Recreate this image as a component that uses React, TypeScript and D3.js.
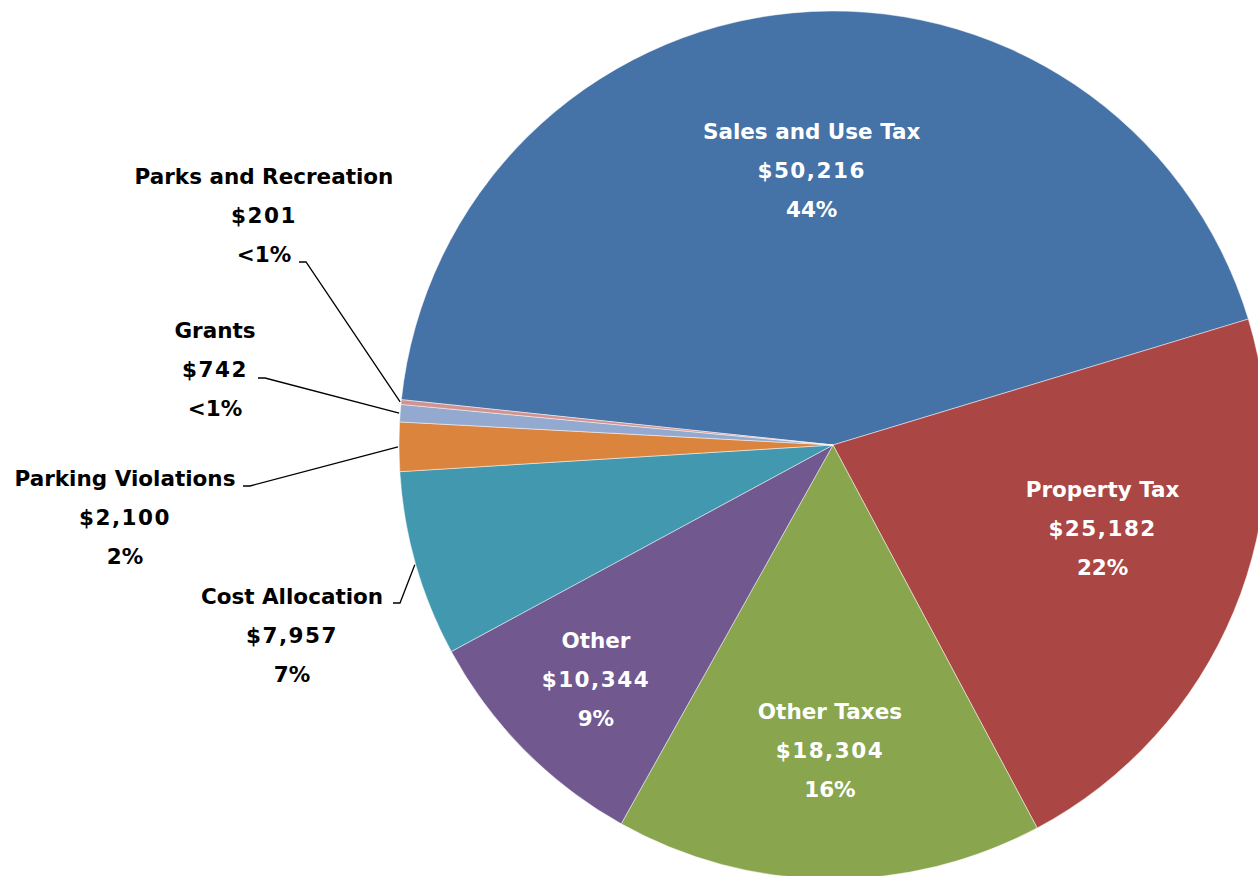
import React, { useEffect, useRef } from 'react';
import * as d3 from 'd3';

// Revenue sources (thousands)
const categories = [
  'Sales and Use Tax',
  'Property Tax',
  'Other Taxes',
  'Other',
  'Cost Allocation',
  'Parking Violations',
  'Grants',
  'Parks and Recreation',
];
const values = [50216, 25182, 18304, 10344, 7957, 2100, 742, 201];
const percentLabels = ['44%', '22%', '16%', '9%', '7%', '2%', '<1%', '<1%'];
const colors = ['#4572A7', '#AA4643', '#89A54E', '#71588F', '#4198AF', '#DB843D', '#93A9CF', '#D19392'];

const W = 1258;
const H = 876;
const cx = 833;
const cy = 445;
const R = 434;
const startDeg = -84;

// label layout: inside labels by radius and angle shift from the mid-angle, outside ones anchored by hand
const insideLayout = [
  { r: 276, shift: 1 },
  { r: 282, shift: -5.5 },
  { r: 305, shift: 0 },
  { r: 333, shift: 0 },
];
const outsideLabels = [
  { i: 4, x: 292, y: 596, lineY: 603, textEnd: 389 },
  { i: 5, x: 125, y: 478, lineY: 486, textEnd: 239 },
  { i: 6, x: 215, y: 330, lineY: 378, textEnd: 254 },
  { i: 7, x: 264, y: 176, lineY: 262, textEnd: 295 },
];

const App = () => {
  const svgRef = useRef<SVGSVGElement>(null);

  useEffect(() => {
    const svg = d3.select(svgRef.current).attr('width', W).attr('height', H).html('');
    const g = svg.append('g').attr('transform', `translate(${cx},${cy})`);

    const pie = d3.pie<number>()
      .sort(null)
      .value(d => d)
      .startAngle((startDeg * Math.PI) / 180)
      .endAngle((startDeg * Math.PI) / 180 + 2 * Math.PI);
    const arcs = pie(values);
    const arc = d3.arc<d3.PieArcDatum<number>>().innerRadius(0).outerRadius(R);

    g.selectAll('path.slice')
      .data(arcs)
      .join('path')
      .attr('class', 'slice')
      .attr('d', arc)
      .attr('fill', (_, i) => colors[i])
      .attr('stroke', 'rgba(255,255,255,0.6)')
      .attr('stroke-width', 0.8);

    const font = '"DejaVu Sans", sans-serif';
    const lineGap = 39;

    const writeLabel = (x: number, y: number, i: number, fill: string) => {
      const t = svg.append('text')
        .attr('text-anchor', 'middle')
        .attr('font-family', font)
        .attr('font-size', 21.5)
        .attr('font-weight', 'bold')
        .attr('fill', fill);
      const lines = [categories[i], '$' + d3.format(',')(values[i]), percentLabels[i]];
      lines.forEach((s, k) => {
        t.append('tspan')
          .attr('x', x)
          .attr('y', y + 8 + k * lineGap)
          .attr('letter-spacing', k === 1 ? 1.5 : 0)
          .text(s);
      });
    };

    insideLayout.forEach((l, i) => {
      const a = arcs[i];
      const mid = (a.startAngle + a.endAngle) / 2 + (l.shift * Math.PI) / 180;
      const x = cx + Math.sin(mid) * l.r;
      const y = cy - Math.cos(mid) * l.r - lineGap;
      writeLabel(x, y, i, '#fff');
    });

    outsideLabels.forEach(o => {
      writeLabel(o.x, o.y, o.i, '#000');
      const a = arcs[o.i];
      const mid = (a.startAngle + a.endAngle) / 2;
      const ex = cx + Math.sin(mid) * (R + 1);
      const ey = cy - Math.cos(mid) * (R + 1);
      const sx = o.textEnd + 4;
      svg.append('path')
        .attr('d', d3.line()([[sx, o.lineY], [sx + 7, o.lineY], [ex, ey]]))
        .attr('fill', 'none')
        .attr('stroke', '#000')
        .attr('stroke-width', 1.3);
    });
  }, []);

  return <svg ref={svgRef} style={{ position: 'absolute', left: 0, top: 0, display: 'block' }} />;
};

export default App;
